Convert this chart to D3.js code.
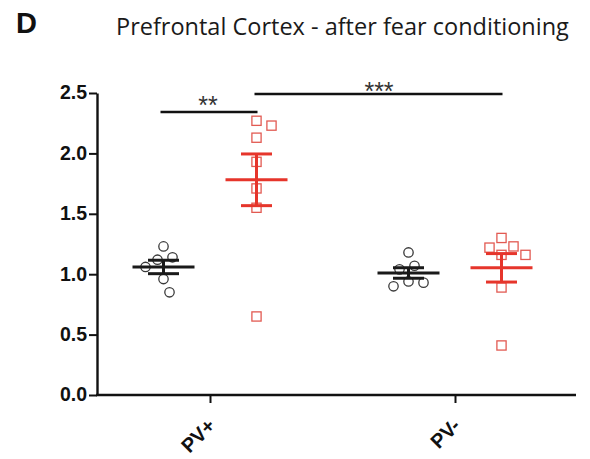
<!DOCTYPE html>
<html>
<head>
<meta charset="utf-8">
<script src="https://cdn.jsdelivr.net/npm/d3@7"></script>
<style>
  html, body { margin: 0; padding: 0; background: #fff; }
  svg { display: block; }
</style>
</head>
<body>
<svg id="chart" width="590" height="459"></svg>
<script>
// Relative expression in prefrontal cortex, PV+ and PV- cells
const groups = ["PV+", "PV-"];
const series = ["control", "conditioned"];
const controlPVpos = [1.23, 1.14, 1.12, 1.06, 0.96, 0.85];
const conditionedPVpos = [2.27, 2.23, 2.13, 1.93, 1.71, 1.55, 0.65];
const controlPVneg = [1.18, 1.07, 1.04, 0.94, 0.93, 0.90];
const conditionedPVneg = [1.30, 1.23, 1.22, 1.16, 1.16, 0.89, 0.41];
const yTicks = [0.0, 0.5, 1.0, 1.5, 2.0, 2.5];
const significance = [
  { from: ["PV+", "control"], to: ["PV+", "conditioned"], label: "**", level: 0 },
  { from: ["PV+", "conditioned"], to: ["PV-", "conditioned"], label: "***", level: 1 }
];

const values = {
  "PV+": { control: controlPVpos, conditioned: conditionedPVpos },
  "PV-": { control: controlPVneg, conditioned: conditionedPVneg }
};

const svg = d3.select("#chart");
const axisLeftX = 97, axisRightX = 576;
const y = d3.scaleLinear().domain([0, 2.5]).range([395, 93]);
const x = d3.scalePoint().domain(groups).range([210, 455]);
const xs = d3.scalePoint().domain(series).range([-46.5, 46.5]);

const colour = { control: "#1a1a1a", conditioned: "#e6352b" };
const markerColour = { control: "#3a3a3a", conditioned: "#e25a52" };
const sans = "Liberation Sans, Arial, sans-serif";

// Panel letter and title
svg.append("text").attr("x", 16).attr("y", 33)
  .attr("font-family", sans)
  .attr("font-weight", "bold").attr("font-size", 29).attr("fill", "#111")
  .text("D");
svg.append("text").attr("x", 116).attr("y", 35)
  .attr("font-family", "Open Sans, sans-serif")
  .attr("font-size", 23.5).attr("fill", "#1a1a1a")
  .text("Prefrontal Cortex - after fear conditioning");

// Y axis
const yAxis = svg.append("g").attr("transform", `translate(${axisLeftX},0)`)
  .call(d3.axisLeft(y).tickValues(yTicks).tickFormat(d3.format(".1f")).tickSize(8).tickSizeOuter(0));
yAxis.select(".domain").attr("stroke", "#111").attr("stroke-width", 2.4);
yAxis.selectAll(".tick line").attr("stroke", "#111").attr("stroke-width", 2);
yAxis.selectAll(".tick text")
  .attr("font-family", sans)
  .attr("font-weight", "bold").attr("font-size", 19.5).attr("fill", "#111")
  .attr("x", -10).attr("dy", "0.3em");

// X axis
svg.append("line").attr("x1", axisLeftX - 1).attr("x2", axisRightX)
  .attr("y1", y(0)).attr("y2", y(0)).attr("stroke", "#111").attr("stroke-width", 2.4);
const xAxis = svg.append("g").attr("transform", `translate(0,${y(0)})`)
  .call(d3.axisBottom(x).tickSize(8).tickSizeOuter(0));
xAxis.select(".domain").remove();
xAxis.selectAll(".tick line").attr("stroke", "#111").attr("stroke-width", 2);
xAxis.selectAll(".tick text")
  .attr("font-family", sans)
  .attr("font-weight", "bold").attr("font-size", 20).attr("fill", "#111")
  .attr("text-anchor", "end").attr("dy", null).attr("y", 0)
  .attr("transform", "translate(6,32) rotate(-45)");

// Simple beeswarm dodge so overlapping markers spread sideways
function dodge(vals, minDist) {
  const pts = vals.map((v, i) => ({ v, i, py: y(v), dx: 0 }))
    .sort((a, b) => a.py - b.py);
  const placed = [];
  for (const p of pts) {
    const cands = [0];
    for (let k = 1; k < 20; k++) cands.push(k * 3, -k * 3);
    for (const c of cands) {
      const ok = placed.every(q => Math.hypot(q.dx - c, q.py - p.py) >= minDist);
      if (ok) { p.dx = c; break; }
    }
    placed.push(p);
  }
  return pts;
}

const plot = svg.append("g");
groups.forEach(g => {
  series.forEach(s => {
    const vals = values[g][s];
    const cx = x(g) + xs(s);
    const n = vals.length;
    const mean = d3.mean(vals);
    const sem = d3.deviation(vals) / Math.sqrt(n);
    const pts = dodge(vals, 14);

    // individual animals
    if (s === "control") {
      plot.append("g").selectAll("circle").data(pts).join("circle")
        .attr("cx", d => cx + d.dx).attr("cy", d => d.py).attr("r", 4.7)
        .attr("fill", "none").attr("stroke", markerColour[s]).attr("stroke-width", 1.3);
    } else {
      plot.append("g").selectAll("rect").data(pts).join("rect")
        .attr("x", d => cx + d.dx - 4.6).attr("y", d => d.py - 4.6)
        .attr("width", 9.2).attr("height", 9.2)
        .attr("fill", "none").attr("stroke", markerColour[s]).attr("stroke-width", 1.3);
    }

    // mean ± SEM
    const eg = plot.append("g").attr("stroke", colour[s]).attr("stroke-width", 3);
    eg.append("line").attr("x1", cx).attr("x2", cx).attr("y1", y(mean + sem)).attr("y2", y(mean - sem));
    eg.append("line").attr("x1", cx - 15.5).attr("x2", cx + 15.5).attr("y1", y(mean + sem)).attr("y2", y(mean + sem));
    eg.append("line").attr("x1", cx - 15.5).attr("x2", cx + 15.5).attr("y1", y(mean - sem)).attr("y2", y(mean - sem));
    eg.append("line").attr("x1", cx - 31).attr("x2", cx + 31).attr("y1", y(mean)).attr("y2", y(mean));
  });
});

// Significance brackets
const sigY = [112, 94];
const sigGap = [9, 5];
significance.forEach(d => {
  const x1 = x(d.from[0]) + xs(d.from[1]);
  const x2 = x(d.to[0]) + xs(d.to[1]);
  const yy = sigY[d.level];
  svg.append("line").attr("x1", d.level === 0 ? x1 - 3 : x1 - 2).attr("x2", x2 + 1)
    .attr("y1", yy).attr("y2", yy).attr("stroke", "#111").attr("stroke-width", 2.6);
  // asterisk glyph sits ~0.42em above the baseline
  svg.append("text").attr("x", (x1 + x2) / 2 + (d.level === 0 ? -2 : 0)).attr("y", yy - sigGap[d.level] + 10.5)
    .attr("text-anchor", "middle")
    .attr("font-family", sans)
    .attr("font-size", 25).attr("fill", "#333")
    .text(d.label);
});
</script>
</body>
</html>
